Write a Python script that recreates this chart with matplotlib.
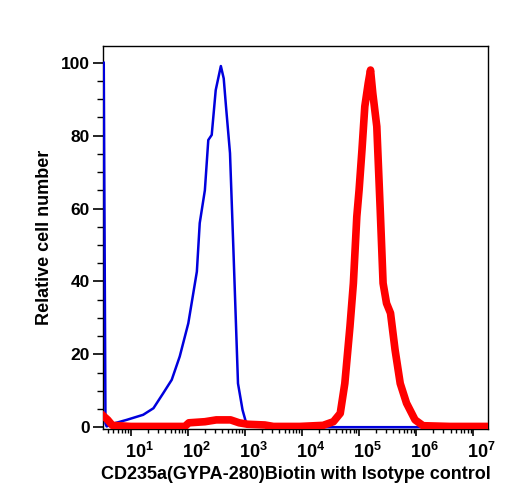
import numpy as np
import matplotlib
matplotlib.use("Agg")
import matplotlib.pyplot as plt
import matplotlib.transforms as mtransforms
from matplotlib.ticker import FixedLocator, FixedFormatter, MultipleLocator, LogLocator, NullFormatter

plt.rcParams['font.family'] = ['Liberation Sans', 'DejaVu Sans']
plt.rcParams['mathtext.fontset'] = 'custom'
plt.rcParams['mathtext.bf'] = 'Liberation Sans:bold'
plt.rcParams['mathtext.rm'] = 'Liberation Sans:bold'

# Isotype control (blue): log10 intensity vs relative count
blue_log = [0.53, 0.56, 0.58, 0.725, 0.93, 1.22, 1.40, 1.57, 1.72, 1.86, 2.01, 2.16, 2.21, 2.30,
            2.36, 2.42, 2.49, 2.58, 2.63, 2.67, 2.74, 2.80, 2.88, 2.96, 3.04, 4.0, 7.26]
blue_val = [100, 1.0, 0.2, 1.1, 2.0, 3.4, 5.2, 9.3, 13, 19.4, 28.5, 42.7, 56, 65,
            78.8, 80.2, 92.5, 99.1, 95.7, 88, 75.2, 48.6, 12, 4.7, 0.2, 0.0, 0.0]

# CD235a (red)
red_log = [0.53, 0.6, 0.68, 1.0, 1.95, 2.02, 2.3, 2.5, 2.75, 2.9, 3.05, 3.35, 3.5, 3.96, 4.37,
           4.55, 4.67, 4.75, 4.84, 4.90, 4.96, 5.00, 5.05, 5.10, 5.16, 5.20, 5.24, 5.31,
           5.37, 5.42, 5.48, 5.55, 5.63, 5.72, 5.83, 5.98, 6.12, 6.59, 7.26]
red_val = [3.0, 2.0, 0.5, 0.2, 0.2, 1.2, 1.5, 2.0, 2.0, 1.2, 0.8, 0.6, 0.2, 0.2, 0.5,
           1.5, 3.8, 12, 27.6, 39.5, 57.8, 65.1, 76, 88, 94.4, 98, 91.6, 82.5,
           59.6, 39.5, 34, 31.3, 21.2, 12, 6.6, 2.0, 0.4, 0.2, 0.2]

xtick_exps = [1, 2, 3, 4, 5, 6, 7]
ytick_vals = [0, 20, 40, 60, 80, 100]

fig = plt.figure(figsize=(5.08, 5.0), dpi=100)
ax = fig.add_axes([0.202, 0.142, 0.759, 0.766])

ax.plot(10 ** np.array(blue_log), blue_val, color='#0000dd', lw=1.8, zorder=3)
ax.plot(10 ** np.array(red_log), red_val, color='#ff0000', lw=5.5, zorder=4,
        solid_joinstyle='round')

ax.set_xscale('log')
ax.set_xlim(10 ** 0.51, 10 ** 7.26)
ax.set_ylim(-0.5, 104.6)

ax.xaxis.set_major_locator(FixedLocator([10 ** e for e in xtick_exps]))
ax.xaxis.set_major_formatter(FixedFormatter([r'$\mathbf{10^{%d}}$' % e for e in xtick_exps]))
ax.xaxis.set_minor_locator(LogLocator(base=10, subs=np.arange(2, 10), numticks=20))
ax.xaxis.set_minor_formatter(NullFormatter())

ax.yaxis.set_major_locator(FixedLocator(ytick_vals))
ax.yaxis.set_minor_locator(MultipleLocator(5))
ax.set_yticklabels([str(v) for v in ytick_vals], fontweight='bold', fontsize=12.5)

ax.tick_params(axis='x', which='major', length=5, width=1.2, labelsize=13, pad=4)
ax.tick_params(axis='x', which='minor', length=3, width=1)
ax.tick_params(axis='y', which='major', length=7, width=1.2, pad=2)
ax.tick_params(axis='y', which='minor', length=4, width=1)

# shift x tick labels slightly right, as in the reference
offset = mtransforms.ScaledTranslation(6 / 72, 0, fig.dpi_scale_trans)
for lab in ax.get_xticklabels():
    lab.set_transform(lab.get_transform() + offset)

for s in ax.spines.values():
    s.set_linewidth(1)

ax.set_xlabel('CD235a(GYPA-280)Biotin with Isotype control', fontsize=13,
              fontweight='bold', labelpad=3)
ax.set_ylabel('Relative cell number', fontsize=13, fontweight='bold', labelpad=6)

fig.savefig('out.png', dpi=100)
